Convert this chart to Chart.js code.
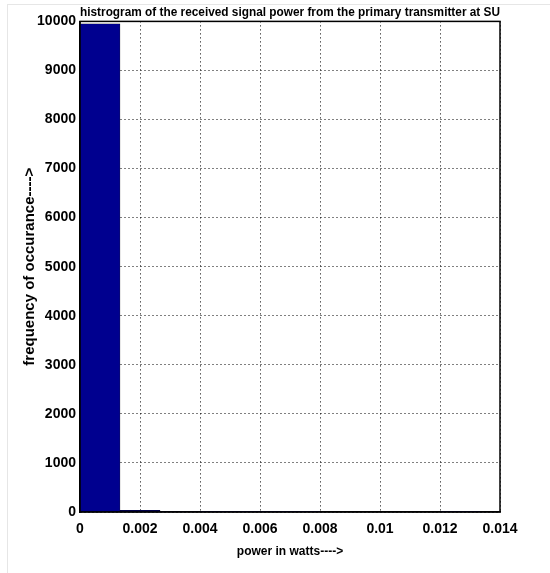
<!DOCTYPE html>
<html>
<head>
<meta charset="utf-8">
<script src="https://cdn.jsdelivr.net/npm/chart.js@4"></script>
<style>
  html, body { margin: 0; padding: 0; background: #fff; }
  .wrap { position: relative; width: 550px; height: 573px; }
  .frame { position: absolute; left: 7px; top: 4px; right: 0; bottom: 0;
           border-left: 1px solid #e6e6e6; border-top: 1px solid #e6e6e6; }
  canvas { position: absolute; left: 0; top: 0; }
</style>
</head>
<body>
<div class="wrap">
  <div class="frame"></div>
  <canvas id="hist" width="550" height="573"></canvas>
</div>
<script>
// histogram bins (centres, watts) and counts
const BIN_CENTERS = [0.000665, 0.002, 0.003335, 0.00467, 0.006005, 0.00734, 0.008675, 0.01001, 0.011345, 0.01268];
const COUNTS      = [9948, 36, 10, 3, 1, 1, 0, 0, 0, 1];
const X_TICKS     = [0, 0.002, 0.004, 0.006, 0.008, 0.01, 0.012, 0.014];
const Y_TICKS     = [0, 1000, 2000, 3000, 4000, 5000, 6000, 7000, 8000, 9000, 10000];

const FONT = '"Liberation Sans", Arial, sans-serif';
const BAR_COLOR = '#00008f';

// box around the plot area (MATLAB "box on")
const boxPlugin = {
  id: 'box',
  afterDraw(chart) {
    const { ctx, chartArea: a } = chart;
    ctx.save();
    ctx.strokeStyle = '#000';
    ctx.lineWidth = 1.5;
    ctx.strokeRect(a.left, a.top, a.right - a.left, a.bottom - a.top);
    ctx.restore();
  },
};

new Chart(document.getElementById('hist'), {
  type: 'bar',
  data: {
    datasets: [{
      data: BIN_CENTERS.map((x, i) => ({ x, y: COUNTS[i] })),
      backgroundColor: BAR_COLOR,
      borderColor: '#000',
      borderWidth: 0.5,
      barPercentage: 1,
      categoryPercentage: 1,
    }],
  },
  options: {
    responsive: false,
    animation: false,
    layout: { padding: { top: 0, right: 50, left: 0, bottom: 0 } },
    plugins: {
      legend: { display: false },
      tooltip: { enabled: false },
      title: {
        display: true,
        fullSize: false,
        text: 'histrogram of the received signal power from the primary transmitter at SU',
        color: '#000',
        font: { family: FONT, size: 12, weight: 'bold' },
        padding: { top: 5, bottom: 2 },
      },
    },
    scales: {
      x: {
        type: 'linear',
        offset: false,
        min: 0, max: 0.014,
        afterBuildTicks: s => { s.ticks = X_TICKS.map(v => ({ value: v })); },
        afterFit: s => { s.height = 61; },
        ticks: {
          color: '#000',
          maxRotation: 0,
          padding: 9,
          font: { family: FONT, size: 14, weight: 'bold' },
          callback: v => String(v),
        },
        grid: { color: '#000', lineWidth: 1, drawTicks: false, offset: false },
        border: { color: '#000', width: 1.5, dash: [1, 3] },
        title: {
          display: true,
          text: 'power in watts---->',
          color: '#000',
          font: { family: FONT, size: 12, weight: 'bold' },
          padding: { top: 0, bottom: 14 },
        },
      },
      y: {
        min: 0, max: 10000,
        afterBuildTicks: s => { s.ticks = Y_TICKS.map(v => ({ value: v })); },
        afterFit: s => { s.width = 80; },
        ticks: {
          color: '#000',
          padding: 4,
          font: { family: FONT, size: 14, weight: 'bold' },
          callback: v => String(v),
        },
        grid: { color: '#000', lineWidth: 1, drawTicks: false },
        border: { color: '#000', width: 1.5, dash: [1, 3] },
        title: {
          display: true,
          text: 'frequency of occurance---->',
          color: '#000',
          font: { family: FONT, size: 15, weight: 'bold' },
          padding: { top: 21, bottom: 0 },
        },
      },
    },
  },
  plugins: [boxPlugin],
});
</script>
</body>
</html>
